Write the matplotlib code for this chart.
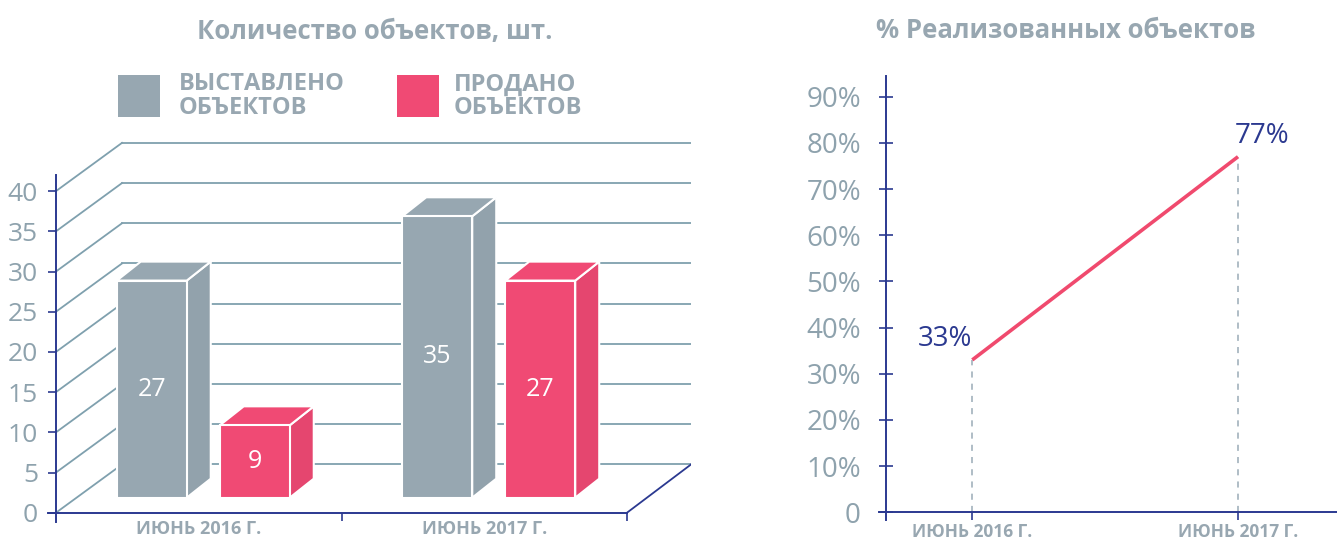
import matplotlib
matplotlib.use('Agg')
import matplotlib.pyplot as plt
from matplotlib.patches import Polygon, Rectangle

plt.rcParams['font.family'] = ['Open Sans', 'DejaVu Sans']

# data
categories = ['ИЮНЬ 2016 Г.', 'ИЮНЬ 2017 Г.']
listed = [27, 35]
sold = [9, 27]
sold_pct = [33, 77]
series_names = ['ВЫСТАВЛЕНО\nОБЪЕКТОВ', 'ПРОДАНО\nОБЪЕКТОВ']

# colours
gray = '#97a7b1'
gray_side = '#92a2ac'
pink = '#f04a74'
pink_side = '#e5466f'
navy = '#2b3990'
gridc = '#7fa0ae'
txtc = '#98a7b1'
tickc = '#8ea2ad'

W, H = 1337, 541
fig = plt.figure(figsize=(W / 100, H / 100), dpi=100)

def fx(x):
    return x / W

def fy(y):
    return 1 - y / H

# ---------------- left: 3D-looking bar chart ----------------
cat_px = 285.5      # px per category
val_px = 8.04       # px per unit
y0_px = 512.7
xmin, xmax = -8 / cat_px, (691 - 56) / cat_px
ymin, ymax = -1.2, 47
ax = fig.add_axes([fx(56 + xmin * cat_px), fy(y0_px + (-ymin) * val_px),
                   (xmax - xmin) * cat_px / W, (ymax - ymin) * val_px / H])
ax.set_xlim(xmin, xmax)
ax.set_ylim(ymin, ymax)
ax.patch.set_alpha(0)

wall_dx, wall_dy = 66 / cat_px, 6.0
for v in range(0, 45, 5):
    ax.plot([wall_dx, xmax], [v + wall_dy, v + wall_dy], color=gridc, lw=1.3, zorder=1)
    ax.plot([0, wall_dx], [v, v + wall_dy], color=gridc, lw=1.3, zorder=1)
ax.plot([2, xmax], [0, wall_dy], color=navy, lw=1.3, zorder=1)

base = 1.87
bw = 70 / cat_px
ddx, ddy = 24 / cat_px, 2.36
offsets = [-82 / cat_px, 21 / cat_px]
for i in range(len(categories)):
    for s, (vals, fc, sc) in enumerate([(listed, gray, gray_side), (sold, pink, pink_side)]):
        v = vals[i]
        l = i + 0.5 + offsets[s]
        r = l + bw
        top = base + v
        ax.add_patch(Polygon([(r, base), (r + ddx, base + ddy), (r + ddx, top + ddy), (r, top)],
                             closed=True, fc=sc, ec='white', lw=1.5, zorder=3))
        ax.add_patch(Polygon([(l, top), (r, top), (r + ddx, top + ddy), (l + ddx, top + ddy)],
                             closed=True, fc=fc, ec='white', lw=1.5, zorder=3))
        ax.add_patch(Rectangle((l, base), bw, v, fc=fc, ec='white', lw=1.5, zorder=4))
        ax.text(l + bw / 2, base + v / 2, str(v), color='white', fontsize=18,
                ha='center', va='center', zorder=5)

for sp in ['top', 'right']:
    ax.spines[sp].set_visible(False)
ax.spines['left'].set_position(('data', 0))
ax.spines['left'].set_bounds(ymin, 42)
ax.spines['bottom'].set_position(('data', 0))
ax.spines['bottom'].set_bounds(xmin, 2)
for sp in ['left', 'bottom']:
    ax.spines[sp].set_color(navy)
    ax.spines[sp].set_linewidth(1.4)
ax.set_yticks(range(0, 45, 5))
ax.tick_params(axis='y', direction='out', length=6, width=1.2, color=navy,
               labelcolor=tickc, labelsize=19, pad=7)
ax.set_xticks([1, 2])
ax.set_xticklabels([])
ax.set_xticks([0.5, 1.5], minor=True)
ax.set_xticklabels(categories, minor=True, fontweight='bold', fontsize=13, color=txtc)
ax.tick_params(axis='x', which='major', direction='out', length=6, width=1.2, color=navy)
ax.tick_params(axis='x', which='minor', length=0, pad=5)

# titles and legend
fig.text(fx(375), fy(31), 'Количество объектов, шт.', fontsize=18.5, fontweight='bold',
         color=txtc, ha='center', va='center')
fig.text(fx(1066), fy(31), '% Реализованных объектов', fontsize=18.5, fontweight='bold',
         color=txtc, ha='center', va='center')
for (sx, tx), name, c in zip([(118, 179), (397, 454)], series_names, [gray, pink]):
    fig.patches.append(Rectangle((fx(sx), fy(117)), 42 / W, 42 / H, fc=c, ec='none',
                                 transform=fig.transFigure, figure=fig))
    fig.text(fx(tx), fy(96), name, fontsize=17, fontweight='bold', color=txtc,
             ha='left', va='center', linespacing=0.95)

# ---------------- right: line chart ----------------
cpx = 265.7
vpx = 4.618
rx0 = 972.3
rxmin = (879 - rx0) / cpx
rxmax = (W - rx0) / cpx
rymin, rymax = -1.7, 94.4
ax2 = fig.add_axes([fx(879), fy(512.3 + (-rymin) * vpx),
                    (W - 879) / W, (rymax - rymin) * vpx / H])
ax2.set_xlim(rxmin, rxmax)
ax2.set_ylim(rymin, rymax)
ax2.patch.set_alpha(0)
xs = list(range(len(categories)))
for x, v in zip(xs, sold_pct):
    ax2.plot([x, x], [0, v], color='#9aabb6', lw=1.1, ls=(0, (4, 4)), zorder=1)
ax2.plot(xs, sold_pct, color='#f04a6e', lw=2.6, zorder=3, solid_capstyle='butt')
ax2.annotate(f'{sold_pct[0]}%', (xs[0], sold_pct[0]), xytext=(0, 5), textcoords='offset points',
             ha='right', va='bottom', fontsize=20, color=navy)
ax2.annotate(f'{sold_pct[1]}%', (xs[1], sold_pct[1]), xytext=(-2, 5), textcoords='offset points',
             ha='left', va='bottom', fontsize=20, color=navy)

for sp in ['top', 'right']:
    ax2.spines[sp].set_visible(False)
ax2.spines['left'].set_position(('data', (886 - rx0) / cpx))
ax2.spines['bottom'].set_position(('data', 0))
for sp in ['left', 'bottom']:
    ax2.spines[sp].set_color(navy)
    ax2.spines[sp].set_linewidth(1.4)
ax2.set_yticks(range(0, 100, 10))
ax2.set_yticklabels(['0'] + [f'{v}%' for v in range(10, 100, 10)])
ax2.tick_params(axis='y', direction='inout', length=10, width=1.2, color=navy,
                labelcolor=tickc, labelsize=20, pad=13)
ax2.set_xticks(xs)
ax2.set_xticklabels(categories, fontweight='bold', fontsize=12.5, color=txtc)
ax2.tick_params(axis='x', direction='out', length=6, width=1.2, color=navy, pad=2)

fig.savefig('out.png', dpi=100)
